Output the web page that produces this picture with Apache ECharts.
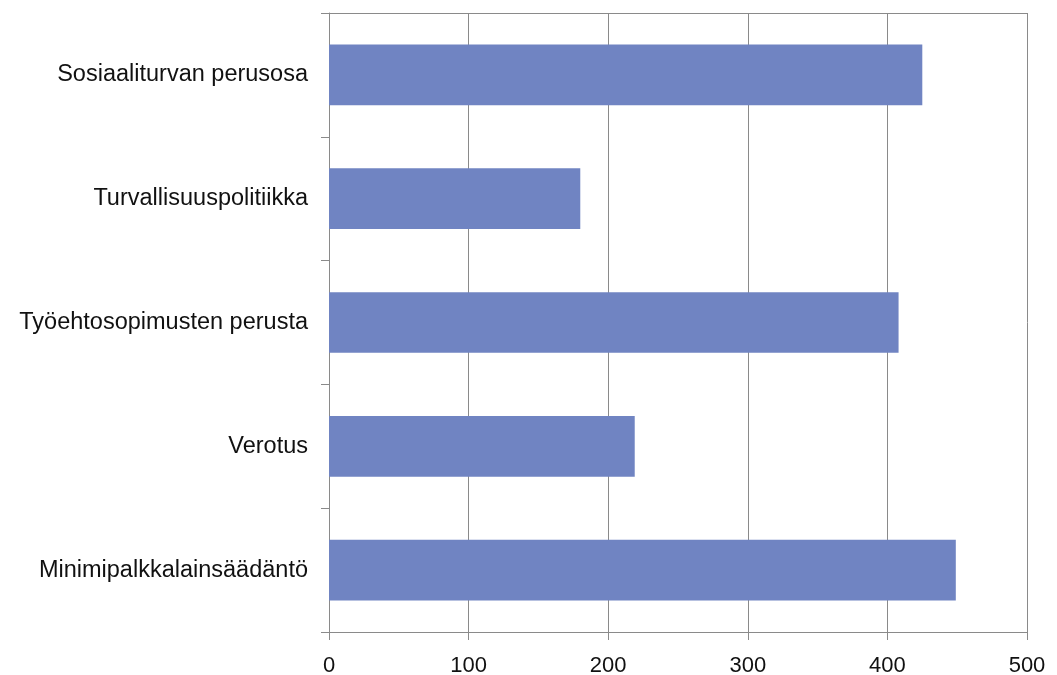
<!DOCTYPE html>
<html>
<head>
<meta charset="utf-8">
<script src="https://cdn.jsdelivr.net/npm/echarts@6/dist/echarts.min.js"></script>
<style>html,body{margin:0;padding:0;background:#fff}#c{width:1057px;height:675px}</style>
</head>
<body>
<div id="c"></div>
<script>
const categories = ["Sosiaaliturvan perusosa", "Turvallisuuspolitiikka", "Työehtosopimusten perusta", "Verotus", "Minimipalkkalainsäädäntö"];
const values = [425, 180, 408, 219, 449];
const xTicks = [0, 100, 200, 300, 400, 500];

const chart = echarts.init(document.getElementById('c'));
const gray = '#8a8a8a';
const font = 'Liberation Sans, Arial, sans-serif';
chart.setOption({
  animation: false,
  backgroundColor: '#fff',
  grid: { left: 329, top: 13, right: 30, bottom: 43, containLabel: false, outerBoundsMode: 'none' },
  xAxis: [{
    type: 'value', min: xTicks[0], max: xTicks[xTicks.length - 1], interval: 100,
    axisLine: { show: true, lineStyle: { color: gray, width: 1 } },
    axisTick: { show: true, length: 8, lineStyle: { color: gray } },
    axisLabel: { color: '#111', fontSize: 22, fontFamily: font, margin: 23 },
    splitLine: { show: true, lineStyle: { color: gray, width: 1 } }
  }, {
    type: 'value', position: 'top', min: 0, max: 500,
    axisLine: { show: true, lineStyle: { color: gray, width: 1 } },
    axisTick: { show: false }, axisLabel: { show: false }, splitLine: { show: false }
  }],
  yAxis: {
    type: 'category', data: categories, inverse: true,
    axisLine: { show: true, lineStyle: { color: gray, width: 1 } },
    axisTick: { show: true, length: 8, lineStyle: { color: gray } },
    axisLabel: { color: '#111', fontSize: 23.5, fontFamily: font, margin: 21 },
    splitLine: { show: false }
  },
  series: [{
    type: 'bar', data: values, barCategoryGap: '51%',
    itemStyle: { color: '#7084c2' }
  }]
});
</script>
</body>
</html>
